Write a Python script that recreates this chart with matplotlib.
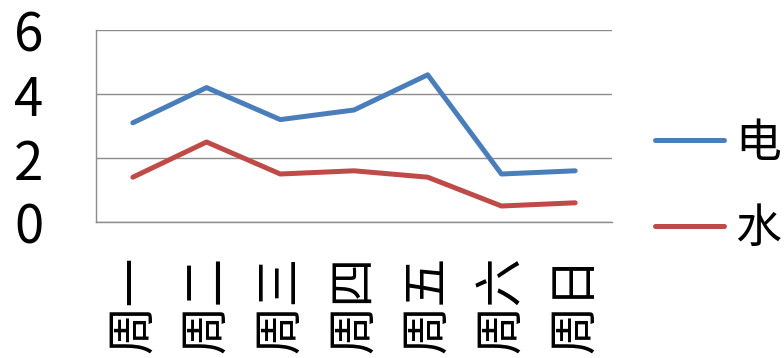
import matplotlib
matplotlib.use('Agg')
import matplotlib.pyplot as plt

# data
days = ['周一', '周二', '周三', '周四', '周五', '周六', '周日']
electricity = [3.1, 4.2, 3.2, 3.5, 4.6, 1.5, 1.6]
water = [1.4, 2.5, 1.5, 1.6, 1.4, 0.5, 0.6]
series_names = ['电', '水']
yticks = [0, 2, 4, 6]

plt.rcParams['font.family'] = ['Noto Sans CJK SC', 'DejaVu Sans']

fig = plt.figure(figsize=(7.84, 3.58), dpi=100)
ax = fig.add_axes([96 / 784, 136 / 358, 516 / 784, 192 / 358])

x = range(len(days))
ax.plot(x, electricity, color='#4A7EBB', lw=3.6, solid_capstyle='round',
        solid_joinstyle='round', label=series_names[0])
ax.plot(x, water, color='#BE4B48', lw=3.6, solid_capstyle='round',
        solid_joinstyle='round', label=series_names[1])

ax.set_xlim(-0.5, len(days) - 0.5)
ax.set_ylim(0, 6)
ax.set_yticks(yticks)
ax.set_xticks(list(x))
ax.set_xticklabels(days, rotation=90, fontsize=35)
ax.tick_params(axis='y', labelsize=38, length=0, pad=38)
ax.tick_params(axis='x', length=0, pad=24)

ax.grid(axis='y', color='#8c8c8c', lw=1)
ax.set_axisbelow(True)
for side in ['top', 'right']:
    ax.spines[side].set_visible(False)
for side in ['left', 'bottom']:
    ax.spines[side].set_color('#8c8c8c')
    ax.spines[side].set_linewidth(1)

ax.legend(loc='upper left', bbox_to_anchor=(655 / 784, 1 - 119 / 358),
          bbox_transform=fig.transFigure, frameon=False, fontsize=33,
          handlelength=1.5, handletextpad=0.25, labelspacing=0.8,
          borderaxespad=0, borderpad=0)

fig.savefig('out.png', dpi=100)
